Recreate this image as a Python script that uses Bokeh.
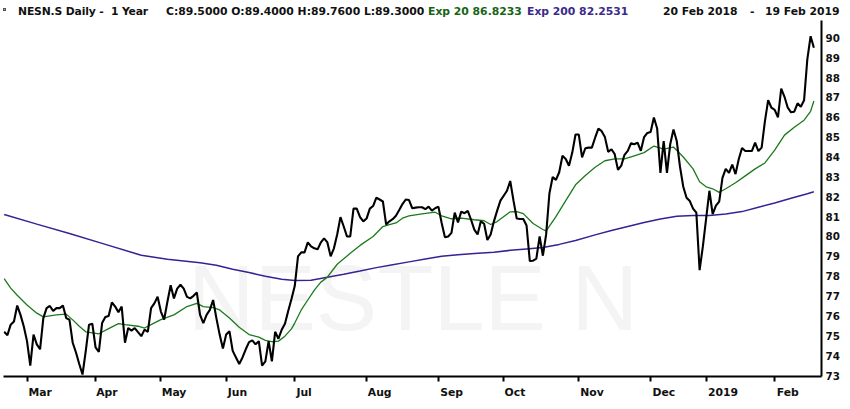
from bokeh.plotting import figure
from bokeh.models import Range1d, FixedTicker, Label, Div
from bokeh.layouts import column
from bokeh.embed import file_html
from bokeh.resources import INLINE

# ---------------- data ----------------
close = [
    75.20, 75.03, 75.56, 75.72, 76.52, 76.05, 75.48, 74.73, 73.50, 75.06,
    74.57, 74.32, 75.89, 76.39, 76.50, 76.25, 76.39, 76.39, 76.52, 75.89,
    75.81, 74.65, 74.16, 73.58, 73.05, 74.24, 75.56, 75.61, 74.41, 74.19,
    75.64, 75.94, 76.00, 76.68, 76.47, 76.19, 76.47, 74.65, 75.39, 75.26,
    75.39, 75.18, 74.98, 75.31, 75.20, 76.39, 76.63, 76.96, 76.22, 75.81,
    76.71, 77.54, 76.88, 77.37, 77.57, 77.37, 76.96, 76.88, 77.01, 77.18,
    76.05, 75.64, 76.05, 76.30, 76.80, 75.89, 75.06, 74.36, 75.06, 75.23,
    74.24, 73.91, 73.58, 73.91, 74.32, 74.68, 74.77, 74.57, 74.73, 73.50,
    73.71, 74.73, 73.71, 75.20, 74.85, 75.30, 75.60, 76.25, 76.85, 77.50,
    79.00, 79.20, 79.20, 79.70, 79.50, 79.40, 79.35, 79.70, 79.90, 79.70,
    79.00, 79.40, 80.10, 80.97, 80.50, 80.00, 80.00, 81.40, 81.40, 80.97,
    80.76, 80.90, 81.40, 81.53, 81.95, 81.86, 81.76, 80.60, 80.76, 80.87,
    81.04, 81.33, 81.63, 81.86, 81.83, 81.42, 81.45, 81.47, 81.47, 81.37,
    81.50, 81.30, 81.42, 81.50, 80.68, 79.96, 80.00, 80.18, 81.20, 80.71,
    81.25, 81.17, 81.29, 80.84, 80.34, 80.10, 80.76, 80.64, 79.82, 80.10,
    80.76, 81.30, 81.80, 82.05, 82.30, 82.79, 81.80, 80.90, 80.88, 80.88,
    80.55, 78.76, 78.78, 78.88, 80.00, 79.03, 80.10, 82.16, 82.99, 82.85,
    83.23, 84.06, 83.90, 83.56, 84.22, 85.13, 85.13, 83.98, 84.44, 84.47,
    84.47, 84.97, 85.43, 85.30, 85.00, 84.26, 84.39, 84.14, 83.35, 83.56,
    84.11, 84.31, 84.69, 84.64, 84.72, 84.31, 85.00, 85.21, 85.26, 85.99,
    85.43, 83.20, 84.80, 83.20, 84.64, 85.38, 84.80, 83.50, 82.50, 81.95,
    81.78, 81.40, 81.20, 78.30, 79.50, 80.90, 82.30, 81.12, 81.55, 81.75,
    82.95, 83.40, 83.20, 83.62, 83.14, 83.90, 84.45, 84.30, 84.30, 84.30,
    84.72, 84.30, 84.47, 85.79, 86.86, 86.48, 86.37, 85.99, 87.44, 87.03,
    86.48, 86.25, 86.28, 86.70, 86.53, 86.86, 88.93, 90.08, 89.50,
]

ema20_day = [0, 2, 4, 7, 10, 12, 16, 19, 21, 23, 25, 27, 29, 32, 35, 37, 41, 43,
             45, 48, 52, 56, 59, 61, 64, 66, 69, 72, 75, 78, 80, 82, 84, 86, 88,
             89, 91, 93, 95, 97, 99, 102, 106, 109, 113, 116, 118, 120, 122, 124,
             128, 132, 134, 137, 140, 144, 147, 149, 151, 155, 157, 159, 162, 165,
             166, 169, 172, 175, 178, 181, 184, 187, 190, 193, 196, 199, 202, 205,
             208, 211, 213, 215, 217, 219, 221, 224, 227, 230, 233, 236, 239, 242,
             245, 247, 248]
ema20_val = [77.88, 77.40, 77.04, 76.55, 76.14, 75.95, 76.05, 76.09, 75.80, 75.48,
             75.20, 75.15, 75.10, 75.36, 75.61, 75.56, 75.48, 75.39, 75.56, 75.81,
             76.05, 76.47, 76.63, 76.47, 76.42, 76.30, 75.89, 75.43, 75.06, 74.93,
             74.77, 74.70, 74.73, 74.98, 75.35, 75.64, 76.30, 76.80, 77.30, 77.70,
             77.95, 78.60, 79.15, 79.55, 80.00, 80.50, 80.60, 80.68, 80.92, 81.04,
             81.14, 81.22, 81.04, 80.89, 80.92, 80.84, 80.79, 80.60, 80.75, 81.24,
             81.25, 81.15, 80.65, 80.35, 80.28, 81.00, 81.80, 82.60, 83.07, 83.48,
             83.81, 83.90, 83.90, 84.06, 84.22, 84.55, 84.40, 84.50, 84.00, 83.40,
             82.75, 82.50, 82.40, 82.22, 82.40, 82.70, 83.05, 83.40, 83.70, 84.35,
             85.10, 85.50, 85.85, 86.30, 86.82]

ema200_day = [0, 10, 20, 30, 42, 50, 60, 65, 70, 75, 80, 85, 89, 94, 99, 104, 109,
              114, 119, 124, 129, 134, 139, 144, 150, 155, 160, 165, 170, 175, 181,
              186, 191, 196, 201, 206, 211, 216, 221, 226, 231, 236, 241, 246, 248]
ema200_val = [81.10, 80.62, 80.15, 79.65, 79.05, 78.85, 78.68, 78.55, 78.35, 78.18,
              78.00, 77.85, 77.78, 77.80, 77.95, 78.10, 78.26, 78.43, 78.58, 78.72,
              78.86, 79.00, 79.08, 79.14, 79.20, 79.30, 79.37, 79.44, 79.60, 79.80,
              80.08, 80.30, 80.50, 80.70, 80.88, 81.02, 81.06, 81.06, 81.13, 81.25,
              81.47, 81.68, 81.92, 82.15, 82.25]

month_day = [7, 28, 48, 68, 89, 111, 133, 153, 176, 198, 215, 236]
month_label = ["Mar", "Apr", "May", "Jun", "Jul", "Aug", "Sep", "Oct", "Nov",
               "Dec", "2019", "Feb"]
price_ticks = list(range(73, 91))

title_main = "NESN.S Daily -  1 Year"
title_ohlc = "C:89.5000 O:89.4000 H:89.7600 L:89.3000"
title_ema20 = "Exp 20 86.8233"
title_ema200 = "Exp 200 82.2531"
title_from = "20 Feb 2018"
title_dash = "-"
title_to = "19 Feb 2019"
watermark = "NESTLE N"

# ---------------- layout (page pixels) ----------------
W, H = 842, 401
DH = 20                      # title strip height
FL, FR, FT, FB = 3, 822, 20, 379
PH = H - DH
X0 = -0.2
X1 = X0 + (FR - FL) / 3.269
Y0, Y1 = 72.95, 90.87
FONT = "DejaVu Sans"
GREEN = "#1b7a1b"
PURPLE = "#3a2094"
GREEN_TXT = "#146414"
PURPLE_TXT = "#3b2a8a"


def dx(px):
    return X0 + (px - FL) * (X1 - X0) / (FR - FL)


def dy(py):
    return Y1 - (py - FT) * (Y1 - Y0) / (FB - FT)


p = figure(width=W, height=PH, output_backend="svg", toolbar_location=None,
           x_range=Range1d(X0, X1), y_range=Range1d(Y0, Y1),
           y_axis_location="right", min_border_left=FL, min_border_right=W - FR,
           min_border_top=FT - DH, min_border_bottom=H - FB)
p.outline_line_color = None
p.xgrid.visible = False
p.ygrid.visible = False
p.background_fill_color = "white"
p.border_fill_color = "white"

# faint watermark
p.add_layout(Label(x=dx(413), y=dy(300), text=watermark, text_font="Liberation Sans",
                   text_font_size="92px", text_color="#f4f4f4", text_align="center",
                   text_baseline="middle", level="underlay"))

days = list(range(len(close)))
p.line(ema200_day, ema200_val, line_color=PURPLE, line_width=1.5)
p.line(ema20_day, ema20_val, line_color=GREEN, line_width=1.3)
p.line(days, close, line_color="black", line_width=2.1)

# x axis: ticks at month starts, labels starting just right of each tick
LBL_PX = 10.8
char_w = {"M": .995, "a": .675, "r": .493, "A": .774, "p": .716, "y": .652,
          "J": .372, "u": .712, "n": .712, "l": .343, "g": .716, "S": .720,
          "e": .678, "O": .850, "c": .593, "t": .478, "N": .837, "o": .687,
          "v": .652, "D": .830, "F": .683, "b": .716, "2": .696, "0": .696,
          "1": .696, "9": .696}
overrides = {}
for d, lab in zip(month_day, month_label):
    w = sum(char_w.get(ch, .7) for ch in lab) * LBL_PX
    n = int(round((w + 2) / (0.348 * LBL_PX)))
    overrides[d] = "\u00a0" * n + lab

xa = p.xaxis[0]
xa.ticker = FixedTicker(ticks=month_day)
xa.major_label_overrides = overrides
xa.axis_line_width = 2
xa.axis_line_color = "black"
xa.major_tick_out = 5
xa.major_tick_in = 0
xa.major_tick_line_width = 2
xa.major_tick_line_color = "black"
xa.minor_tick_line_color = None
xa.major_label_standoff = 4
xa.major_label_text_font = FONT
xa.major_label_text_font_style = "bold"
xa.major_label_text_font_size = "%.1fpx" % LBL_PX
xa.major_label_text_color = "#111111"

ya = p.yaxis[0]
ya.ticker = FixedTicker(ticks=price_ticks)
ya.axis_line_width = 2
ya.axis_line_color = "black"
ya.major_tick_out = 0
ya.major_tick_in = 0
ya.minor_tick_line_color = None
ya.major_label_standoff = 4
ya.major_label_text_font = FONT
ya.major_label_text_font_style = "bold"
ya.major_label_text_font_size = "10.3px"
ya.major_label_text_color = "#111111"

# title strip
pieces = [(18, title_main, "#111111", "-0.15px"),
          (166, title_ohlc, "#111111", "0px"),
          (428, title_ema20, GREEN_TXT, "0px"),
          (527, title_ema200, PURPLE_TXT, "0px"),
          (663, title_from, "#111111", "0px"),
          (750, title_dash, "#111111", "0px"),
          (765, title_to, "#111111", "0px")]
spans = ['<span style="position:absolute;left:3px;top:8px;width:3px;height:3px;'
         'background:#b8b040;border:1px solid #555;"></span>']
for left, txt, col, ls in pieces:
    spans.append('<span style="position:absolute;left:%dpx;top:5px;color:%s;'
                 'letter-spacing:%s;">%s</span>' % (left, col, ls, txt))
html = ('<div style="position:relative;width:%dpx;height:%dpx;font-family:\'DejaVu Sans\';'
        'font-weight:bold;font-size:10.8px;line-height:13px;white-space:pre;'
        'background:white;">%s</div>' % (W, DH, "".join(spans)))
title = Div(text=html, width=W, height=DH, margin=0)

layout = column(title, p, spacing=0)
open("out.html", "w").write(file_html(layout, INLINE))
